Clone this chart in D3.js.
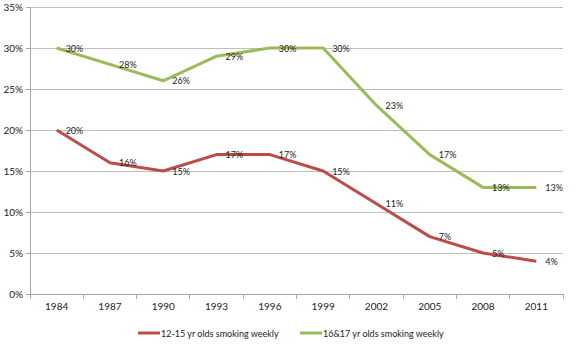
<!DOCTYPE html>
<html><head><meta charset="utf-8">
<script src="https://cdn.jsdelivr.net/npm/d3@7"></script>
<style>
body{margin:0;background:#fff;}
svg{display:block;font-family:Lato,"Open Sans",sans-serif;}
</style></head>
<body><svg id="c" width="580" height="351"></svg>
<script>
const years = ["1984","1987","1990","1993","1996","1999","2002","2005","2008","2011"];
const young = [20,16,15,17,17,15,11,7,5,4];
const older = [30,28,26,29,30,30,23,17,13,13];
const yTicks = [0,5,10,15,20,25,30,35];
const seriesNames = ["12-15 yr olds smoking weekly","16&17 yr olds smoking weekly"];
const colors = ["#be4b48","#9bbb59"];

const svg = d3.select("#c");
const L=30,R=563,T=7,B=294;
const x = d3.scaleBand().domain(years).range([L,R]);
const y = d3.scaleLinear().domain([0,35]).range([B,T]);

// gridlines
svg.append("g").selectAll("line").data(yTicks.filter(d=>d>0)).join("line")
  .attr("x1",L).attr("x2",R).attr("y1",d=>y(d)).attr("y2",d=>y(d))
  .attr("stroke","#bfbfbf").attr("stroke-width",1).attr("shape-rendering","crispEdges");

// y axis
const ya = svg.append("g").attr("transform",`translate(${L},0)`)
  .call(d3.axisLeft(y).tickValues(yTicks).tickFormat(d=>d+"%").tickSize(4).tickPadding(3));
ya.select(".domain").attr("stroke","#a6a6a6");
ya.selectAll(".tick line").attr("stroke","#a6a6a6");
ya.selectAll("text").attr("font-size",10).attr("fill","#222").attr("font-family","Lato,'Open Sans',sans-serif");

// x axis
const xa = svg.append("g").attr("transform",`translate(0,${B})`)
  .call(d3.axisBottom(x).tickSize(0).tickPadding(9));
xa.select(".domain").attr("stroke","#a6a6a6");
xa.selectAll("text").attr("font-size",10).attr("fill","#222").attr("font-family","Lato,'Open Sans',sans-serif");
// boundary ticks
const bounds = years.map(d=>x(d)).concat([R]);
xa.append("g").selectAll("line").data(bounds).join("line")
  .attr("x1",d=>d).attr("x2",d=>d).attr("y1",0).attr("y2",5)
  .attr("stroke","#a6a6a6").attr("shape-rendering","crispEdges");

const cx = d=>x(d)+x.bandwidth()/2;
const data = [young, older];
const line = d3.line().x((d,i)=>cx(years[i])).y(d=>y(d));
data.forEach((vals,k)=>{
  svg.append("path").datum(vals).attr("d",line)
    .attr("fill","none").attr("stroke",colors[k]).attr("stroke-width",3)
    .attr("stroke-linejoin","round");
});
data.forEach((vals,k)=>{
  svg.append("g").selectAll("text").data(vals).join("text")
    .attr("x",(d,i)=>cx(years[i])+9).attr("y",d=>y(d)+3.5)
    .attr("font-size",9).attr("fill","#222")
    .text(d=>d+"%");
});

// legend
const lg = svg.append("g");
const lx = [138,300];
seriesNames.forEach((n,k)=>{
  lg.append("line").attr("x1",lx[k]).attr("x2",lx[k]+22).attr("y1",333).attr("y2",333)
    .attr("stroke",colors[k]).attr("stroke-width",3);
  lg.append("text").attr("x",lx[k]+23).attr("y",336.5).attr("font-size",9).attr("fill","#222").text(n);
});
</script></body></html>
